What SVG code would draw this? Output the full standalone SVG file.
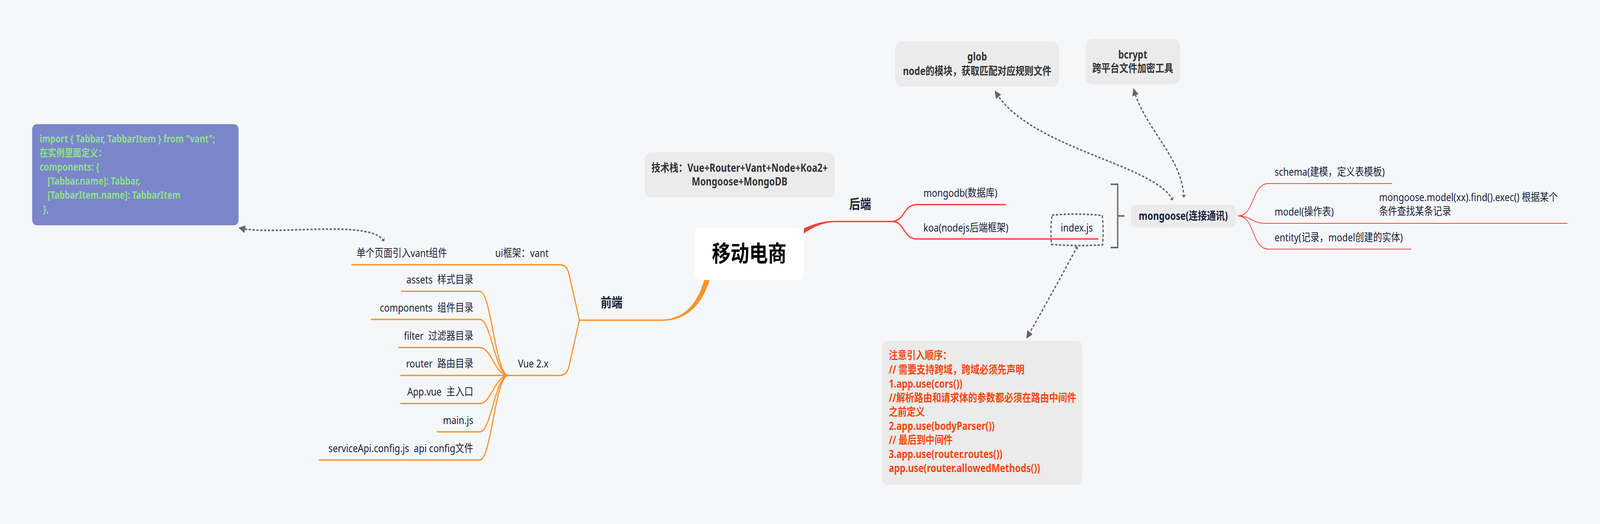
<svg xmlns="http://www.w3.org/2000/svg" width="4976" height="1342" viewBox="0 0 4976 1342" preserveAspectRatio="none" style="width:100vw;height:100vh;display:block">
<style>
text{font-family:'Noto Sans','Noto Sans CJK SC',sans-serif;font-size:28px;fill:#17213a}
.b{font-weight:700}
.gt{fill:#333;font-weight:700}
.nt{fill:#f5470f;font-weight:700}
.pt{fill:#8fe08e;font-weight:700;font-size:26px}
.mid{text-anchor:middle}
.end{text-anchor:end}
.pre{white-space:pre}
.box{fill:#ebebeb}
.or{fill:none;stroke:#f7942c;stroke-width:3.5}
.rd{fill:none;stroke:#f0443a;stroke-width:3.5}
.rd2{fill:none;stroke:#f0443a;stroke-width:2}
.rel{fill:none;stroke:#666;stroke-width:4;stroke-dasharray:7 5}
</style>
<defs>
<marker id="ah" viewBox="0 0 10 10" refX="8" refY="5" markerUnits="userSpaceOnUse" markerWidth="22" markerHeight="20" orient="auto"><path d="M0 0L10 5L0 10z" fill="#666"/></marker>
<marker id="tl" viewBox="0 0 10 16" refX="8" refY="8" markerUnits="userSpaceOnUse" markerWidth="8" markerHeight="14" orient="auto-start-reverse"><path d="M1 1L8 8L1 15" fill="none" stroke="#666" stroke-width="2.5"/></marker>
</defs>
<rect width="4976" height="1342" fill="#f6f7f9"/>

<g id="connectors">
  <path d="M2190 717 C2165 790 2115 818.2 2057 818.2 L2057 821.8 C2125 822 2180 790 2207 717Z" fill="#f7942c"/>
  <path class="or" d="M2060 820 H1802"/>
  <path class="or" d="M1802 820 L1769 700 Q1763 678 1740 678 H1093"/>
  <path class="or" d="M1802 820 L1769 940 Q1763 961.5 1740 961.5 H1581"/>
  <path class="or" d="M1581 961.5 C1540 961.5 1528 746 1492 746 H1247"/>
  <path class="or" d="M1581 961.5 C1540 961.5 1528 818 1492 818 H1153"/>
  <path class="or" d="M1581 961.5 C1540 961.5 1528 890 1492 890 H1239"/>
  <path class="or" d="M1581 961.5 H1245"/>
  <path class="or" d="M1581 961.5 C1540 961.5 1528 1033.5 1492 1033.5 H1245"/>
  <path class="or" d="M1581 961.5 C1540 961.5 1528 1106 1492 1106 H1358"/>
  <path class="or" d="M1581 961.5 C1540 961.5 1528 1178 1492 1178 H991"/>
  <path d="M2500 585 C2535 571 2565 565.4 2600 565.4 L2600 569 C2565 569 2535 578 2500 598Z" fill="#f0443a"/>
  <path class="rd" d="M2598 567.2 H2773"/>
  <path class="rd" d="M2773 567.2 C2815 567.2 2808 524 2851 524 H3128"/>
  <path class="rd" d="M2773 567.2 C2815 567.2 2808 612 2851 612 H3416"/>
  <path class="rd2" d="M3849 553 C3905 553 3890 470 3946 470 H4329"/>
  <path class="rd2" d="M3849 553 C3895 553 3890 572 3937 572 H4875"/>
  <path class="rd2" d="M3849 553 C3905 553 3890 638 3946 638 H4389"/>
  <path d="M3454 472 H3476 V634 H3454 M3476 553 H3497" fill="none" stroke="#666" stroke-width="4"/>
  <path class="rel" d="M1194 617 C1150 560 850 605 746 584" marker-start="url(#tl)" marker-end="url(#ah)"/>
  <path class="rel" d="M3647 512 C3590 420 3200 380 3096 235" marker-start="url(#tl)" marker-end="url(#ah)"/>
  <path class="rel" d="M3682 505 C3675 400 3560 330 3526 229" marker-start="url(#tl)" marker-end="url(#ah)"/>
  <path class="rel" d="M3350 632 Q3280 740 3194 864" marker-start="url(#tl)" marker-end="url(#ah)"/>
</g>

<g id="center">
  <rect x="2161" y="583" width="339" height="134" rx="16" fill="#fff"/>
  <text class="b mid" x="2330" y="670" style="font-size:58px;fill:#000">移动电商</text>
</g>

<g id="techstack">
  <rect class="box" x="2005" y="390" width="591" height="116" rx="20"/>
  <text class="gt mid" x="2300" y="440">技术栈：Vue+Router+Vant+Node+Koa2+</text>
  <text class="gt mid" x="2300" y="475">Mongoose+MongoDB</text>
</g>

<g id="frontend">
  <text class="b" x="1868" y="787" style="font-size:34px">前端</text>
</g>
<g id="ui-vant"><text class="end" x="1706" y="658">ui框架：vant</text></g>
<g id="vant-single"><text class="end" x="1390" y="658">单个页面引入vant组件</text></g>
<g id="vue"><text class="end" x="1706" y="941">Vue 2.x</text></g>
<g id="assets"><text class="end pre" x="1472" y="726">assets  样式目录</text></g>
<g id="components"><text class="end pre" x="1472" y="798">components  组件目录</text></g>
<g id="filter"><text class="end pre" x="1472" y="870">filter  过滤器目录</text></g>
<g id="router"><text class="end pre" x="1472" y="941">router  路由目录</text></g>
<g id="appvue"><text class="end pre" x="1472" y="1013">App.vue  主入口</text></g>
<g id="mainjs"><text class="end" x="1472" y="1086">main.js</text></g>
<g id="serviceapi"><text class="end pre" x="1472" y="1158">serviceApi.config.js  api config文件</text></g>

<g id="vant-code">
  <rect x="100" y="318" width="642" height="259" rx="14" fill="#7b86ca"/>
  <text class="pt pre" x="123" y="365">import { Tabbar, TabbarItem } from "vant";</text>
  <text class="pt" x="123" y="401">在实例里面定义：</text>
  <text class="pt" x="123" y="437">components: {</text>
  <text class="pt" x="148" y="473">[Tabbar.name]: Tabbar,</text>
  <text class="pt" x="148" y="509">[TabbarItem.name]: TabbarItem</text>
  <text class="pt" x="134" y="545">},</text>
</g>

<g id="backend">
  <text class="b" x="2641" y="535" style="font-size:34px">后端</text>
</g>
<g id="mongodb"><text x="2872" y="504">mongodb(数据库)</text></g>
<g id="koa"><text x="2872" y="593">koa(nodejs后端框架)</text></g>
<g id="indexjs">
  <path class="rel" d="M3272 551 Q3350 545 3428 552 Q3433 590 3429 627 Q3350 631 3270 626 Q3266 590 3272 551Z"/>
  <text x="3299" y="593">index.js</text>
</g>

<g id="mongoose">
  <rect class="box" x="3517" y="524" width="327" height="59" rx="14"/>
  <text class="b mid" x="3680" y="563">mongoose(连接通讯)</text>
</g>
<g id="schema"><text x="3964" y="450">schema(建模，定义表模板)</text></g>
<g id="model">
  <text x="3964" y="552">model(操作表)</text>
  <text x="4289" y="515">mongoose.model(xx).find().exec() 根据某个</text>
  <text x="4289" y="551">条件查找某条记录</text>
</g>
<g id="entity"><text x="3964" y="618">entity(记录，model创建的实体)</text></g>

<g id="glob">
  <rect class="box" x="2784" y="106" width="509" height="116" rx="20"/>
  <text class="gt mid" x="3039" y="155">glob</text>
  <text class="gt mid" x="3039" y="192">node的模块，获取匹配对应规则文件</text>
</g>
<g id="bcrypt">
  <rect class="box" x="3376" y="100" width="294" height="116" rx="20"/>
  <text class="gt mid" x="3523" y="150">bcrypt</text>
  <text class="gt mid" x="3523" y="185">跨平台文件加密工具</text>
</g>

<g id="koa-notes">
  <rect class="box" x="2743" y="873" width="623" height="369" rx="16"/>
  <text class="nt" x="2764" y="920">注意引入顺序：</text>
  <text class="nt" x="2764" y="957">// 需要支持跨域，跨域必须先声明</text>
  <text class="nt" x="2764" y="993">1.app.use(cors())</text>
  <text class="nt" x="2764" y="1029">//解析路由和请求体的参数都必须在路由中间件</text>
  <text class="nt" x="2764" y="1065">之前定义</text>
  <text class="nt" x="2764" y="1101">2.app.use(bodyParser())</text>
  <text class="nt" x="2764" y="1137">// 最后到中间件</text>
  <text class="nt" x="2764" y="1173">3.app.use(router.routes())</text>
  <text class="nt" x="2764" y="1209">app.use(router.allowedMethods())</text>
</g>
</svg>
